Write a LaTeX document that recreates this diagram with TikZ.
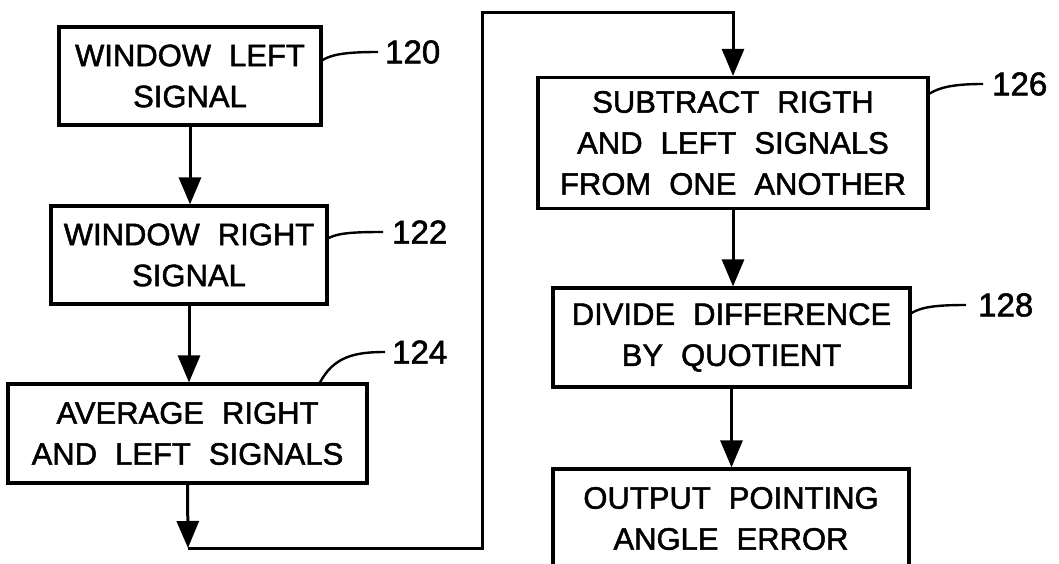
\documentclass[tikz,border=0pt]{standalone}
\usepackage{fontspec}
\setmainfont{Liberation Sans}
\newfontfamily\hvfont{Liberation Sans}[FakeBold=1.6]
\usetikzlibrary{arrows.meta}
\newcommand\bxfont{\hvfont\fontsize{31}{41}\selectfont\spaceskip=18pt plus 2pt minus 2pt\relax}
\newcommand\lbfont{\hvfont\fontsize{33}{38}\selectfont}
\begin{document}
\begin{tikzpicture}[x=1pt,y=-1pt,
  box/.style={draw,line width=3.2pt,inner sep=0pt,align=center,font=\bxfont},
  arr/.style={line width=3pt,-{Triangle[length=27pt,width=22pt]}},
  lead/.style={line width=2.4pt},
  lbl/.style={anchor=west,inner sep=0pt,font=\lbfont}]
\useasboundingbox (0,0) rectangle (1059,564);

% boxes
\node[box,minimum width=262pt,minimum height=98pt] (b120) at (190,76) {WINDOW LEFT\\SIGNAL};
\node[box,minimum width=276pt,minimum height=98pt] (b122) at (189,255) {WINDOW RIGHT\\SIGNAL};
\node[box,minimum width=359pt,minimum height=99pt] (b124) at (187.5,433.5) {AVERAGE RIGHT\\AND LEFT SIGNALS};
\node[box,minimum width=390pt,minimum height=131pt] (b126) at (733,143) {SUBTRACT RIGTH\\AND LEFT SIGNALS\\FROM ONE ANOTHER};
\node[box,minimum width=357pt,minimum height=99pt] (b128) at (731.5,337.5) {DIVIDE DIFFERENCE\\BY QUOTIENT};
\node[box,minimum width=356pt,minimum height=99pt] (bout) at (731,518.5) {OUTPUT POINTING\\ANGLE ERROR};

% reference labels
\node[lbl] (l120) at (385,52) {120};
\node[lbl] (l122) at (392,232) {122};
\node[lbl] (l124) at (392,352) {124};
\node[lbl] (l126) at (992,84) {126};
\node[lbl] (l128) at (978,305) {128};

% leaders
\draw[lead] ([yshift=16pt]b120.east) .. controls +(10,-6) and +(-30,0) .. ([xshift=-7pt]l120.west);
\draw[lead] ([yshift=17pt]b122.east) .. controls +(10,-5) and +(-30,0) .. ([xshift=-9pt]l122.west);
\draw[lead] ([xshift=132.5pt]b124.north) .. controls +(14,-26) and +(-30,0) .. ([xshift=-7pt]l124.west);
\draw[lead] ([yshift=49.5pt]b126.east) .. controls +(10,-6) and +(-30,0) .. ([xshift=-9pt]l126.west);
\draw[lead] ([yshift=24.5pt]b128.east) .. controls +(10,-6) and +(-30,0) .. ([xshift=-12pt]l128.west);

% flow
\coordinate (c1) at (188,548);
\coordinate (c2) at (482,548);
\coordinate (c3) at (482,13);
\coordinate (c4) at (733,13);
\draw[arr] (b120.south) -- (b120.south |- b122.north);
\draw[arr] (b122.south) -- (b122.south |- b124.north);
\draw[arr] (b124.south) -- (c1);
\draw[arr] (c1) -- (c2) -- (c3) -- (c4) -- (b126.north);
\draw[arr] (b126.south) -- (b126.south |- b128.north);
\draw[arr] (b128.south) -- (b128.south |- bout.north);
\end{tikzpicture}
\end{document}
